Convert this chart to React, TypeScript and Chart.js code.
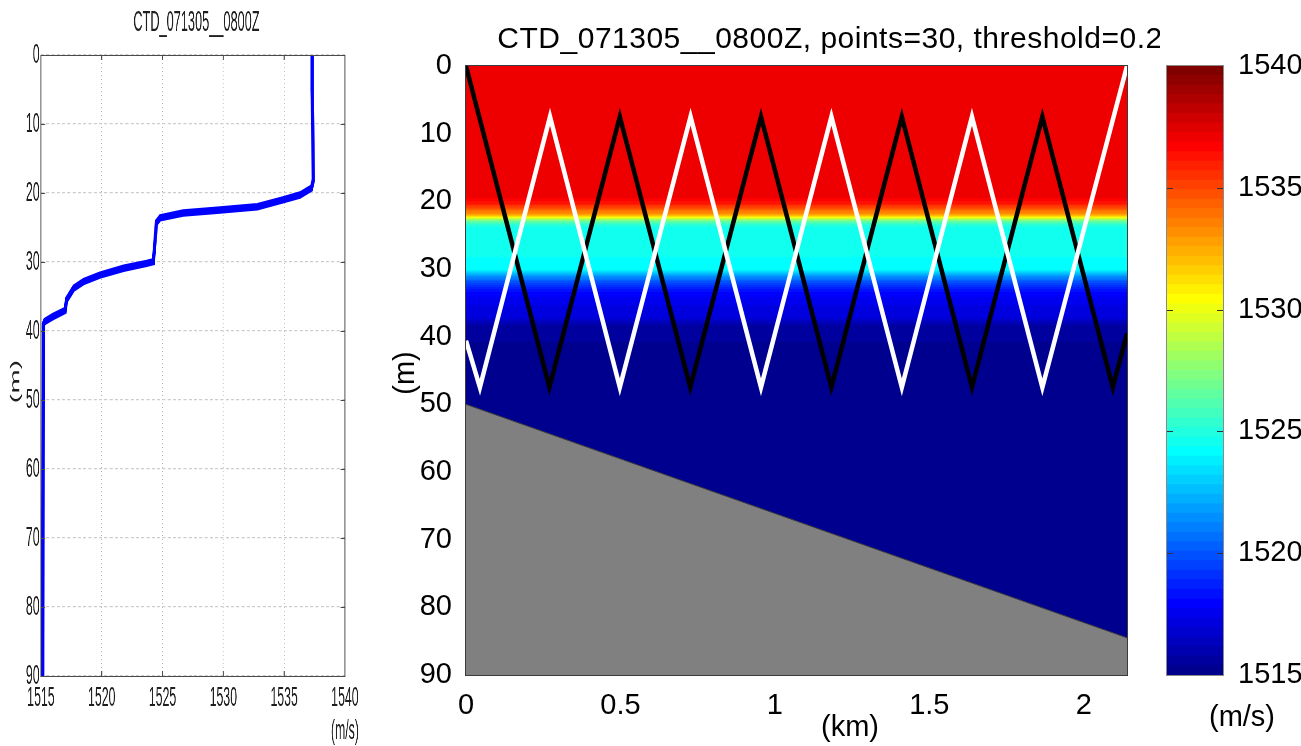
import React, { useEffect, useRef } from 'react';
import { Chart, registerables } from 'chart.js';

Chart.register(...registerables);

// ---------- data ----------
// Sound-speed profile (left panel): depth (m) and speed (m/s)
const profileDepth = [0, 5, 10, 18.1, 19.3, 20.3, 21.0, 22.0, 22.5, 22.9, 23.6, 24.3, 29.95, 30.2, 30.9, 31.9, 32.85, 33.8, 35.5, 37.0, 37.9, 38.65, 39.1, 90];
const profileSpeed = [1537.3, 1537.3, 1537.35, 1537.4, 1537.25, 1536.3, 1534.9, 1532.8, 1529.5, 1526.7, 1524.8, 1524.5, 1524.25, 1523.7, 1521.8, 1519.85, 1518.5, 1517.7, 1517.1, 1517.0, 1516.0, 1515.3, 1515.2, 1515.15];

// Rays (right panel): range (km) and depth (m)
const blackRayRange = [0, 0.27, 0.498, 0.726, 0.955, 1.183, 1.411, 1.638, 1.866, 2.094, 2.14];
const blackRayDepth = [0, 47.5, 7.5, 47.5, 7.5, 47.5, 7.5, 47.5, 7.5, 47.5, 39.5];
const whiteRayRange = [0, 0.045, 0.272, 0.498, 0.727, 0.955, 1.183, 1.411, 1.638, 1.866, 2.14];
const whiteRayDepth = [40.6, 47.5, 7.5, 47.5, 7.5, 47.5, 7.5, 47.5, 7.5, 47.5, 0];

// Seafloor (right panel)
const seafloorRange = [0, 2.14];
const seafloorDepth = [50, 84.5];

// Axes / tick values
const speedMin = 1515;
const speedMax = 1540;
const depthMax = 90;
const rangeMax = 2.14;
const colorLevels = 64;

const leftTitle = 'CTD_071305__0800Z';
const rightTitle = 'CTD_071305__0800Z, points=30, threshold=0.2';

const FAMILY = "'Liberation Sans', Arial, sans-serif";

// ---------- helpers ----------
function jetRGB(i: number): [number, number, number] {
  // MATLAB jet(64), i = 0..63
  const n = 16;
  const u: number[] = [];
  for (let k = 1; k <= n; k++) u.push(k / n);
  for (let k = 0; k < n - 1; k++) u.push(1);
  for (let k = n; k >= 1; k--) u.push(k / n);
  const j = i + 1;
  const at = (k: number) => (k >= 1 && k <= u.length ? u[k - 1] : 0);
  return [at(j - 24), at(j - 8), at(j + 8)];
}
function jetColor(i: number): string {
  const [r, g, b] = jetRGB(i);
  return `rgb(${Math.round(r * 255)},${Math.round(g * 255)},${Math.round(b * 255)})`;
}
function speedToLevel(v: number): number {
  const idx = Math.round(((v - speedMin) / (speedMax - speedMin)) * (colorLevels - 1));
  return Math.max(0, Math.min(colorLevels - 1, idx));
}
function speedAtDepth(d: number): number {
  if (d <= profileDepth[0]) return profileSpeed[0];
  for (let k = 1; k < profileDepth.length; k++) {
    if (d <= profileDepth[k]) {
      const t = (d - profileDepth[k - 1]) / (profileDepth[k] - profileDepth[k - 1]);
      return profileSpeed[k - 1] + t * (profileSpeed[k] - profileSpeed[k - 1]);
    }
  }
  return profileSpeed[profileSpeed.length - 1];
}
const toPts = (xs: number[], ys: number[]) => xs.map((x, i) => ({ x, y: ys[i] }));

// ---------- plugins ----------
const leftDecor = {
  id: 'leftDecor',
  afterDraw(chart: any) {
    const { ctx, chartArea, scales } = chart;
    const { left, right, top, bottom } = chartArea;
    const x = scales.x, y = scales.y;
    ctx.save();
    ctx.strokeStyle = '#4a4a4a';
    ctx.lineWidth = 1;
    ctx.beginPath();
    ctx.moveTo(left, Math.round(top) + 0.5); ctx.lineTo(right, Math.round(top) + 0.5);
    ctx.moveTo(left, Math.round(bottom) + 0.5); ctx.lineTo(right, Math.round(bottom) + 0.5);
    y.ticks.forEach((t: any) => {
      const py = Math.round(y.getPixelForValue(t.value)) + 0.5;
      ctx.moveTo(left, py); ctx.lineTo(left + 10, py);
      ctx.moveTo(right, py); ctx.lineTo(right - 10, py);
    });
    ctx.stroke();
    ctx.lineWidth = 2.3;
    ctx.beginPath();
    ctx.moveTo(left, top); ctx.lineTo(left, bottom + 1);
    ctx.moveTo(right, top); ctx.lineTo(right, bottom + 1);
    x.ticks.forEach((t: any) => {
      const px = x.getPixelForValue(t.value);
      ctx.moveTo(px, bottom); ctx.lineTo(px, bottom - 5);
      ctx.moveTo(px, top); ctx.lineTo(px, top + 5);
    });
    ctx.stroke();
    ctx.fillStyle = '#1e1e1e';
    ctx.font = `29px ${FAMILY}`;
    ctx.textAlign = 'center';
    ctx.textBaseline = 'middle';
    ctx.fillText(leftTitle, (left + right) / 2 + 8, 23);
    ctx.font = `29px ${FAMILY}`;
    ctx.translate(36, (top + bottom) / 2 + 16);
    ctx.rotate(-Math.PI / 2);
    ctx.fillText('(m)', 0, 0);
    ctx.restore();
  },
};

const fieldPlugin = {
  id: 'field',
  beforeDatasetsDraw(chart: any) {
    const { ctx, chartArea, scales } = chart;
    const { left, right, top, bottom } = chartArea;
    const y = scales.y;
    ctx.save();
    for (let py = Math.floor(top); py < Math.ceil(bottom); py++) {
      const depth = y.getValueForPixel(py + 0.5);
      ctx.fillStyle = jetColor(speedToLevel(speedAtDepth(depth)));
      ctx.fillRect(left, py, right - left, 1);
    }
    ctx.restore();
  },
};

const rightDecor = {
  id: 'rightDecor',
  afterDraw(chart: any) {
    const { ctx, chartArea } = chart;
    const { left, right, top, bottom } = chartArea;
    ctx.save();
    ctx.strokeStyle = '#3c3c3c';
    ctx.lineWidth = 1;
    ctx.strokeRect(Math.round(left) - 0.5, Math.round(top) - 0.5, Math.round(right - left) + 1, Math.round(bottom - top) + 1);
    ctx.fillStyle = '#000';
    ctx.textAlign = 'center';
    ctx.textBaseline = 'middle';
    ctx.font = `30px ${FAMILY}`;
    try { (ctx as any).letterSpacing = '0.5px'; } catch (e) { /* ignore */ }
    ctx.fillText(rightTitle, 460, 40);
    try { (ctx as any).letterSpacing = '0px'; } catch (e) { /* ignore */ }
    ctx.font = `29px ${FAMILY}`;
    ctx.fillText('(km)', 480, 728);
    ctx.translate(36, 373);
    ctx.rotate(-Math.PI / 2);
    ctx.fillText('(m)', 0, 0);
    ctx.restore();
  },
};

const cbDecor = {
  id: 'cbDecor',
  afterDraw(chart: any) {
    const { ctx, chartArea, scales } = chart;
    const { left, right, top, bottom } = chartArea;
    const y = scales.y;
    ctx.save();
    ctx.strokeStyle = '#333';
    ctx.lineWidth = 1;
    ctx.beginPath();
    y.ticks.forEach((t: any) => {
      if (t.value <= speedMin || t.value >= speedMax) return;
      const py = Math.round(y.getPixelForValue(t.value)) + 0.5;
      ctx.moveTo(left, py); ctx.lineTo(left + 6, py);
      ctx.moveTo(right, py); ctx.lineTo(right - 6, py);
    });
    ctx.stroke();
    ctx.strokeStyle = '#8a8a8a';
    ctx.strokeRect(Math.round(left) - 0.5, Math.round(top) - 0.5, Math.round(right - left) + 1, Math.round(bottom - top) + 1);
    ctx.fillStyle = '#000';
    ctx.font = `29px ${FAMILY}`;
    ctx.textAlign = 'center';
    ctx.textBaseline = 'middle';
    ctx.fillText('(m/s)', 102, 718);
    ctx.restore();
  },
};

// ---------- component ----------
export default function App() {
  const leftRef = useRef<HTMLCanvasElement>(null);
  const rightRef = useRef<HTMLCanvasElement>(null);
  const cbRef = useRef<HTMLCanvasElement>(null);

  useEffect(() => {
    const charts: Chart[] = [];
    const tickFontL = { family: FAMILY, size: 28 };
    const tickFontR = { family: FAMILY, size: 29 };

    // Left panel: profile (canvas is drawn wide and squeezed horizontally)
    charts.push(
      new Chart(leftRef.current as HTMLCanvasElement, {
        type: 'line',
        data: {
          datasets: [
            {
              data: toPts(profileSpeed, profileDepth),
              borderColor: '#0000ff',
              borderWidth: 7.5,
              pointRadius: 0,
              fill: false,
              tension: 0,
            },
          ],
        },
        options: {
          responsive: false,
          animation: false,
          devicePixelRatio: 1,
          layout: { padding: { left: 0, right: 57, top: 55, bottom: 0 } },
          plugins: { legend: { display: false }, tooltip: { enabled: false }, title: { display: false } },
          scales: {
            x: {
              type: 'linear',
              min: speedMin,
              max: speedMax,
              ticks: {
                stepSize: 5,
                includeBounds: false,
                autoSkip: false,
                maxRotation: 0,
                padding: 5,
                color: '#1e1e1e',
                font: tickFontL,
                callback: (v: any) => (v === speedMax ? [String(v), '(m/s)'] : String(v)),
              },
              grid: { color: '#b4b4b4', lineWidth: 2.2, drawTicks: false },
              border: { display: false, dash: [1, 3] },
              afterFit: (s: any) => { s.height = 70; },
            },
            y: {
              type: 'linear',
              reverse: true,
              min: 0,
              max: depthMax,
              ticks: { stepSize: 10, padding: 3, color: '#1e1e1e', font: tickFontL, callback: (v: any) => String(v) },
              grid: { color: '#cdcdcd', lineWidth: 1.2, drawTicks: false },
              border: { display: false, dash: [7, 5] },
              afterFit: (s: any) => { s.width = 93; },
            },
          },
        } as any,
        plugins: [leftDecor],
      })
    );

    // Right panel: sound-speed field with rays
    charts.push(
      new Chart(rightRef.current as HTMLCanvasElement, {
        type: 'line',
        data: {
          datasets: [
            { data: toPts(whiteRayRange, whiteRayDepth), borderColor: '#ffffff', borderWidth: 4.5, pointRadius: 0, fill: false, tension: 0 },
            { data: toPts(blackRayRange, blackRayDepth), borderColor: '#000000', borderWidth: 4.5, pointRadius: 0, fill: false, tension: 0 },
            { data: toPts(seafloorRange, seafloorDepth), borderColor: '#3a3a3a', borderWidth: 1, backgroundColor: '#808080', fill: 'start', pointRadius: 0, tension: 0 },
          ],
        },
        options: {
          responsive: false,
          animation: false,
          devicePixelRatio: 1,
          layout: { padding: { left: 0, right: 33, top: 66, bottom: 0 } },
          plugins: { legend: { display: false }, tooltip: { enabled: false }, title: { display: false } },
          scales: {
            x: {
              type: 'linear',
              min: 0,
              max: rangeMax,
              ticks: { stepSize: 0.5, includeBounds: false, autoSkip: false, maxRotation: 0, padding: 6, color: '#000', font: tickFontR, callback: (v: any) => String(v) },
              grid: { display: false },
              border: { display: false },
              afterFit: (s: any) => { s.height = 71; },
            },
            y: {
              type: 'linear',
              reverse: true,
              min: 0,
              max: depthMax,
              ticks: { stepSize: 10, padding: 6, color: '#000', font: tickFontR, callback: (v: any) => String(v) },
              grid: { display: false },
              border: { display: false },
              afterFit: (s: any) => { s.width = 96; },
            },
          },
        } as any,
        plugins: [fieldPlugin, rightDecor],
      })
    );

    // Colorbar
    const levelIdx = Array.from({ length: colorLevels }, (_, i) => i);
    const step = (speedMax - speedMin) / colorLevels;
    charts.push(
      new Chart(cbRef.current as HTMLCanvasElement, {
        type: 'bar',
        data: {
          labels: ['cb'],
          datasets: levelIdx.map((i) => ({
            data: [[speedMin + i * step, speedMin + (i + 1) * step]],
            backgroundColor: jetColor(i),
            borderWidth: 0,
            barPercentage: 1,
            categoryPercentage: 1,
            grouped: false,
            inflateAmount: 0.5,
          })),
        },
        options: {
          responsive: false,
          animation: false,
          devicePixelRatio: 1,
          layout: { padding: { left: 27, right: 0, top: 66, bottom: 71 } },
          plugins: { legend: { display: false }, tooltip: { enabled: false } },
          scales: {
            x: { display: false },
            y: {
              position: 'right',
              min: speedMin,
              max: speedMax,
              ticks: { stepSize: 5, padding: 7, color: '#000', font: tickFontR, callback: (v: any) => String(v) },
              grid: { display: false },
              border: { display: false },
              afterFit: (s: any) => { s.width = 78; },
            },
          },
        } as any,
        plugins: [cbDecor],
      })
    );

    return () => charts.forEach((c) => c.destroy());
  }, []);

  const abs = (left: number, width: number): React.CSSProperties => ({
    position: 'absolute',
    left,
    top: 0,
    width,
    height: 746,
  });

  return (
    <div style={{ position: 'absolute', left: 0, top: 0, width: 1301, height: 746, background: '#fff', overflow: 'hidden' }}>
      <canvas ref={leftRef} width={841} height={746} style={abs(0, 370)} />
      <canvas ref={rightRef} width={790} height={746} style={abs(370, 790)} />
      <canvas ref={cbRef} width={161} height={746} style={abs(1140, 161)} />
    </div>
  );
}
